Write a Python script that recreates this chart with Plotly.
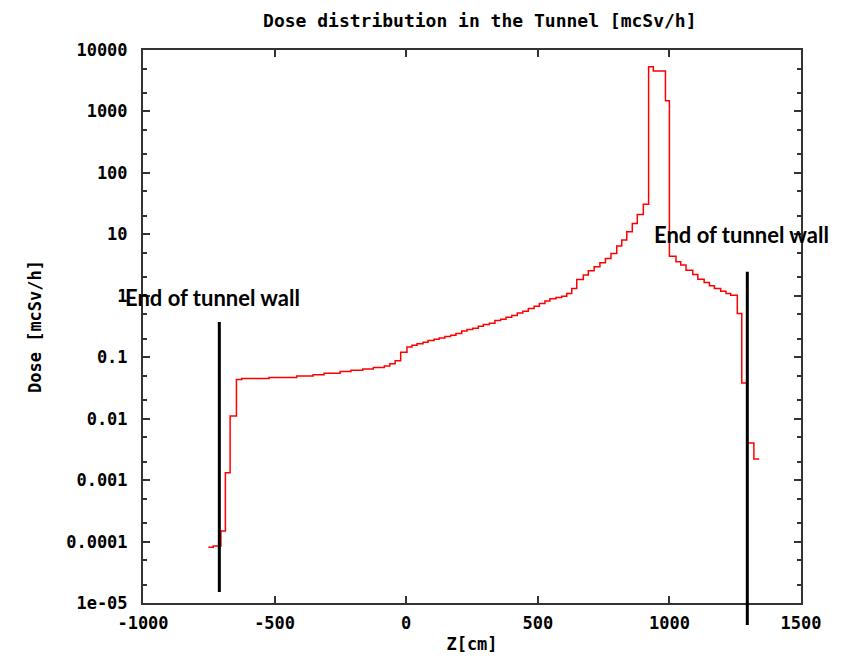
import plotly.graph_objects as go

# ---- data ----
z_edges = [-752, -733, -704, -687, -669, -645, -625, -521, -416, -354, -312, -251, -210,
           -165, -125, -83, -62, -42, -21, 3, 22, 41, 64, 83, 106, 125, 147, 169, 189,
           211, 231, 253, 274, 293, 316, 337, 359, 379, 401, 422, 443, 464, 486, 506,
           527, 546, 569, 591, 610, 629, 648, 673, 692, 714, 736, 757, 778, 800, 819,
           838, 859, 878, 901, 921, 939, 985, 1000, 1025, 1043, 1063, 1089, 1108, 1132,
           1152, 1171, 1195, 1215, 1233, 1258, 1275, 1296, 1321, 1341]
dose = [8.1e-5, 8.5e-5, 1.48e-4, 1.32e-3, 0.0111, 0.0434, 0.045, 0.0467, 0.0496, 0.052,
        0.055, 0.0585, 0.0615, 0.0645, 0.068, 0.072, 0.078, 0.088, 0.12, 0.147, 0.157,
        0.165, 0.175, 0.187, 0.196, 0.206, 0.217, 0.228, 0.243, 0.268, 0.282, 0.297,
        0.32, 0.341, 0.358, 0.396, 0.416, 0.448, 0.477, 0.526, 0.561, 0.621, 0.677,
        0.75, 0.826, 0.891, 0.938, 0.985, 1.09, 1.31, 1.84, 2.17, 2.55, 2.96, 3.44,
        4.05, 4.89, 6.43, 8.05, 11, 15, 21, 31, 5350, 4550, 1490, 4.4, 3.57, 3.16,
        2.61, 2.22, 1.86, 1.64, 1.45, 1.31, 1.19, 1.09, 1.02, 0.515, 0.038, 0.004,
        0.0022]

wall_left_z = -710
wall_right_z = 1296
wall_label = "End of tunnel wall"

x_ticks = [-1000, -500, 0, 500, 1000, 1500]
y_tickvals = [1e4, 1e3, 1e2, 1e1, 1, 0.1, 0.01, 0.001, 0.0001, 1e-5]
y_ticktext = ["10000", "1000", "100", "10", "1", "0.1", "0.01", "0.001", "0.0001", "1e-05"]
y_minor = [m * d for d in y_tickvals[1:] for m in (2, 5)]

MONO = "DejaVu Sans Mono"

fig = go.Figure()
fig.add_trace(go.Scatter(
    x=z_edges, y=dose + [dose[-1]],
    mode="lines", line=dict(color="#ff0000", width=1.5, shape="hv"),
    showlegend=False, hoverinfo="skip"))

axis_common = dict(
    showline=True, linecolor="#333333", linewidth=2, mirror="allticks",
    ticks="inside", ticklen=7, tickcolor="#333333", tickwidth=1.5,
    showgrid=False, zeroline=False,
    tickfont=dict(family=MONO, size=17, color="black", weight="bold"),
)

fig.update_xaxes(range=[-1000, 1500], tickvals=x_ticks,
                 ticktext=[str(v) for v in x_ticks],
                 ticklabelstandoff=4,
                 title=dict(text="Z[cm]", standoff=6,
                            font=dict(family=MONO, size=17, color="black", weight="bold")),
                 **axis_common)
fig.update_yaxes(type="log", range=[-5, 4], tickvals=y_tickvals, ticktext=y_ticktext,
                 ticklabelstandoff=10,
                 minor=dict(ticks="inside", ticklen=4, tickmode="array", tickvals=y_minor,
                            tickcolor="#333333", tickwidth=1.5),
                 title=dict(text="Dose [mcSv/h]", standoff=20,
                            font=dict(family=MONO, size=17, color="black", weight="bold")),
                 **axis_common)

# wall markers
fig.add_shape(type="line", xref="x", yref="paper", x0=wall_left_z, x1=wall_left_z,
              y0=0.020, y1=0.508, line=dict(color="black", width=3))
fig.add_shape(type="line", xref="x", yref="paper", x0=wall_right_z, x1=wall_right_z,
              y0=-0.040, y1=0.599, line=dict(color="black", width=3))

fig.add_annotation(text=wall_label, xref="paper", yref="paper", x=0.105, y=0.553,
                   showarrow=False, xanchor="center", yanchor="middle",
                   font=dict(family="Lato", size=22, color="black", weight="bold"))
fig.add_annotation(text=wall_label, xref="paper", yref="paper", x=0.909, y=0.667,
                   showarrow=False, xanchor="center", yanchor="middle",
                   font=dict(family="Lato", size=22, color="black", weight="bold"))

# page body adds an 8px offset; size/margins compensate so plot area sits at 143..801 x 50..603
fig.update_layout(
    width=838, height=656,
    margin=dict(l=135, r=45, t=42, b=61),
    paper_bgcolor="white", plot_bgcolor="white",
    title=dict(text="Dose distribution in the Tunnel [mcSv/h]",
               x=0.563, xanchor="center", y=0.980, yanchor="middle",
               font=dict(family=MONO, size=18, color="black", weight="bold")),
)

fig.write_html("out.html")
